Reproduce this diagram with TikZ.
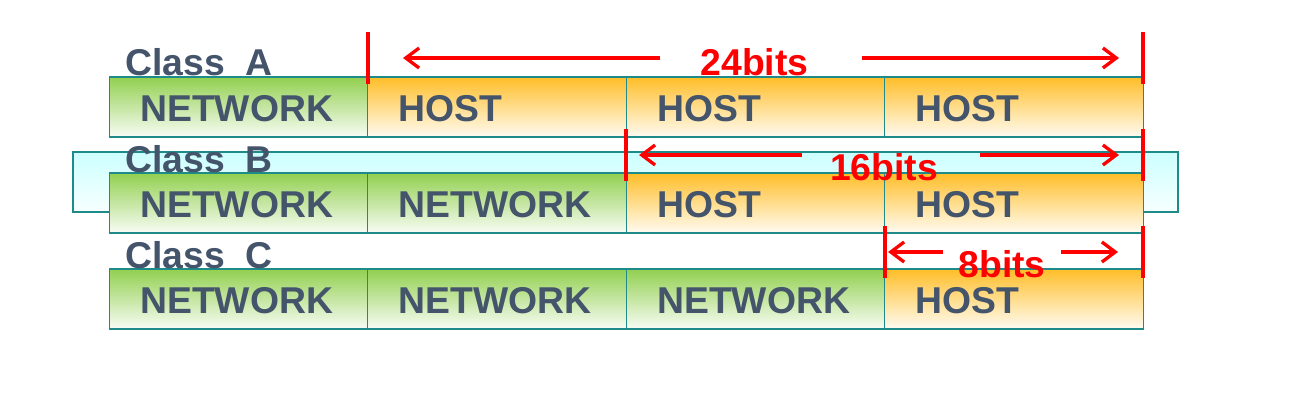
\documentclass[tikz,border=0pt]{standalone}
\usepackage{fontspec}
\setmainfont{Liberation Sans}
\usetikzlibrary{arrows.meta}

\definecolor{netgreen}{RGB}{146,208,80}
\definecolor{hostorange}{RGB}{255,190,40}
\definecolor{boxline}{RGB}{30,138,138}
\definecolor{labelgrey}{RGB}{68,84,106}
\definecolor{bandcyan}{RGB}{204,255,255}

\newcommand{\bigbold}{\fontsize{28}{32}\selectfont\bfseries}

\tikzset{
  field/.style={rectangle, draw=boxline, line width=1.1pt, minimum height=45pt,
    inner xsep=23.25pt, inner ysep=0pt, text width=147.4pt, align=left,
    text height=22.2pt, text depth=0pt, text=labelgrey, font=\bigbold},
  netfield/.style={field, top color=netgreen, bottom color=white!94!netgreen},
  hostfield/.style={field, top color=hostorange, bottom color=white!94!hostorange},
  classlabel/.style={anchor=base west, inner sep=0pt, text=labelgrey, font=\bigbold},
  bitslabel/.style={anchor=base, inner sep=0pt, text=red, font=\bigbold},
  redtick/.style={red, line width=3pt},
  dimarrow/.style={red, line width=2.5pt, -{Straight Barb[length=10pt,width=15pt]}}
}

\begin{document}
\begin{tikzpicture}[x=0.75pt,y=-0.75pt]
\useasboundingbox (0,0) rectangle (1289,411);

% Band behind Class B
\node[rectangle, draw=boxline, line width=1.1pt, minimum width=828.75pt, minimum height=45pt,
  top color=bandcyan, bottom color=white!85!bandcyan] (bandB) at (625.5,182) {};

% Class A
\node[netfield]  (a1) at (238.5,107) {NETWORK};
\node[hostfield] (a2) at (497,107)   {HOST};
\node[hostfield] (a3) at (755.5,107) {HOST};
\node[hostfield] (a4) at (1014,107)  {HOST};
\node[classlabel] (clsA) at (125,75) {Class\ \ A};

% Class B
\node[netfield]  (b1) at (238.5,203) {NETWORK};
\node[netfield]  (b2) at (497,203)   {NETWORK};
\node[hostfield] (b3) at (755.5,203) {HOST};
\node[hostfield] (b4) at (1014,203)  {HOST};
\node[classlabel] (clsB) at (125,172) {Class\ \ B};

% Class C
\node[netfield]  (c1) at (238.5,299) {NETWORK};
\node[netfield]  (c2) at (497,299)   {NETWORK};
\node[netfield]  (c3) at (755.5,299) {NETWORK};
\node[hostfield] (c4) at (1014,299)  {HOST};
\node[classlabel] (clsC) at (125,268) {Class\ \ C};

% 24 bits
\coordinate (t24l) at (368,32);
\coordinate (t24r) at (1143,32);
\coordinate (s24l) at (660,58);
\coordinate (e24l) at (403,58);
\coordinate (s24r) at (862,58);
\coordinate (e24r) at (1119,58);
\draw[redtick] (t24l) -- ++(0,52);
\draw[redtick] (t24r) -- ++(0,52);
\draw[dimarrow] (s24l) -- (e24l);
\draw[dimarrow] (s24r) -- (e24r);
\node[bitslabel] (lbl24) at (754.5,75) {24bits};

% 16 bits
\coordinate (t16l) at (626,129);
\coordinate (t16r) at (1143,129);
\coordinate (s16l) at (802,155);
\coordinate (e16l) at (639,155);
\coordinate (s16r) at (980,155);
\coordinate (e16r) at (1119,155);
\draw[redtick] (t16l) -- ++(0,52);
\draw[redtick] (t16r) -- ++(0,52);
\draw[dimarrow] (s16l) -- (e16l);
\draw[dimarrow] (s16r) -- (e16r);
\node[bitslabel] (lbl16) at (884,180) {16bits};

% 8 bits
\coordinate (t8l) at (885,226);
\coordinate (t8r) at (1143,226);
\coordinate (s8l) at (943,252);
\coordinate (e8l) at (888,252);
\coordinate (s8r) at (1061,252);
\coordinate (e8r) at (1118,252);
\draw[redtick] (t8l) -- ++(0,52);
\draw[redtick] (t8r) -- ++(0,52);
\draw[dimarrow] (s8l) -- (e8l);
\draw[dimarrow] (s8r) -- (e8r);
\node[bitslabel] (lbl8) at (1002,277) {8bits};
\end{tikzpicture}
\end{document}
